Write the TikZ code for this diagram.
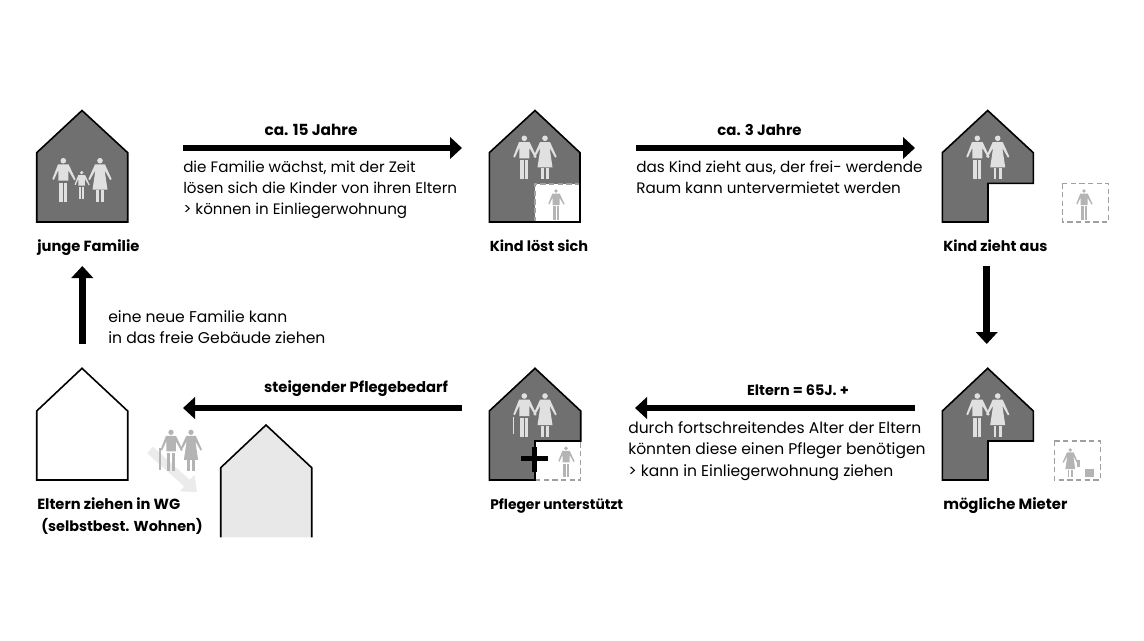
\documentclass[tikz,border=0pt]{standalone}
\usepackage{fontspec}
\setmainfont{Poppins}
\usetikzlibrary{arrows.meta}
\definecolor{housegray}{HTML}{707070}
\definecolor{figlight}{HTML}{E0E0E0}
\definecolor{figmid}{HTML}{B4B4B4}
\definecolor{dashgray}{HTML}{A0A0A0}
\newcommand{\bfs}[1]{\fontsize{#1}{14}\selectfont\bfseries}
\newcommand{\rgs}[1]{\fontsize{#1}{16}\selectfont}
\tikzset{
  house/.style={draw=black,line width=1.2pt,line join=miter},
  bigarrow/.style={line width=5pt,-{Triangle[length=9pt,width=16pt]}},
  dashbox/.style={draw=dashgray,line width=0.9pt,dash pattern=on 4pt off 2.5pt},
  lab/.style={inner sep=0pt,anchor=base west},
  toplab/.style={inner sep=0pt,anchor=base},
  body/.style={inner sep=0pt,anchor=north west,align=left}
}
\newcommand{\manfig}[4]{% x,y,scale,colour
  \begin{scope}[shift={(#1,#2)},scale=#3]
    \fill[#4] (0,0) circle (2.8);
    \fill[#4] (-5.3,3.7) -- (-11,18.3) -- (-9.4,19.2) -- (-5,9.5) -- (-5,20) -- (5,20) -- (5,9.5) -- (10.9,19.6) -- (12.3,18.6) -- (5.3,3.7) -- cycle;
    \fill[#4] (-3.9,22) rectangle (-0.7,41);
    \fill[#4] (0.7,22) rectangle (3.9,41);
  \end{scope}}
\newcommand{\womanfig}[4]{%
  \begin{scope}[shift={(#1,#2)},scale=#3]
    \fill[#4] (0,0) circle (2.8);
    \fill[#4] (-5,3.7) -- (5,3.7) -- (11.6,18.3) -- (10.2,19.4) -- (4.6,9.5) -- (7.5,29) -- (-7.5,29) -- (-4.6,9.5) -- (-10.2,19.4) -- (-11.6,18.3) -- cycle;
    \fill[#4] (-4.1,29.6) rectangle (-1.3,41);
    \fill[#4] (1.3,29.6) rectangle (4.1,41);
  \end{scope}}
\begin{document}
\begin{tikzpicture}[x=0.75pt,y=-0.75pt]
\useasboundingbox (0,0) rectangle (1144,640);
% --- house 1
\path[house,fill=housegray] (82,110.5) -- (127.7,152.7) -- (127.7,222) -- (36.7,222) -- (36.7,152.7) -- cycle;
\manfig{63.3}{160.7}{1}{figlight}
\manfig{81.7}{172.7}{0.65}{figlight}
\womanfig{100}{160.7}{1}{figlight}
% --- house 2
\fill[housegray] (535,110.5) -- (580,152.7) -- (580,222) -- (489.3,222) -- (489.3,152.7) -- cycle;
\fill[white] (535,184) rectangle (580,222);
\draw[dashbox] (535,222) -- (535,184) -- (580,184);
\draw[house] (535,110.5) -- (580,152.7) -- (580,222) -- (489.3,222) -- (489.3,152.7) -- cycle;
\manfig{524.3}{138.3}{1}{figlight}
\womanfig{545}{138.3}{1}{figlight}
\manfig{556}{191}{0.7}{figmid}
% --- house 3
\path[house,fill=housegray] (987.7,110.5) -- (1033.3,152.7) -- (1033.3,183.3) -- (988,183.3) -- (988,222) -- (942.3,222) -- (942.3,152.7) -- cycle;
\manfig{977.3}{138.3}{1}{figlight}
\womanfig{997.7}{138.3}{1}{figlight}
\draw[dashbox] (1062.7,183.3) rectangle (1108.7,222);
\manfig{1084}{191}{0.7}{figmid}
% --- house 4
\path[house,fill=housegray] (987.7,368.3) -- (1033.3,411) -- (1033.3,441) -- (988,441) -- (988,480) -- (942.3,480) -- (942.3,411) -- cycle;
\manfig{977.3}{396}{1}{figlight}
\womanfig{997.7}{396}{1}{figlight}
\draw[dashbox] (1054.3,441) rectangle (1100.3,480);
\womanfig{1070.3}{450}{0.66}{figmid}
\fill[figmid] (1076.7,460) rectangle (1080.3,467.3);
\fill[figmid] (1085.3,469) rectangle (1093.7,477);
% --- house 5
\draw[dashbox] (535,480) -- (580.7,480) -- (580.7,441);
\path[house,fill=housegray] (535,368.3) -- (580.7,411) -- (580.7,441) -- (535,441) -- (535,480) -- (489.3,480) -- (489.3,411) -- cycle;
\manfig{524.3}{396}{1}{figlight}
\draw[figlight,line width=0.8pt] (513.3,416.5) -- (513.3,434);
\womanfig{545}{396}{1}{figlight}
\manfig{566}{448.3}{0.7}{figmid}
\fill[black] (521,456.2) rectangle (547.7,461.2);
\fill[black] (531.8,446.7) rectangle (536.8,471.7);
% --- house 6 and 7
\path[house,fill=white] (82,368.3) -- (127.7,411) -- (127.7,480) -- (36.7,480) -- (36.7,411) -- cycle;
\fill[black!9] (266,425) -- (311.7,467.7) -- (311.7,537.3) -- (220.7,537.3) -- (220.7,467.7) -- cycle;
\draw[house] (220.7,537.3) -- (220.7,467.7) -- (266,425) -- (311.7,467.7) -- (311.7,537.3);
% moving arrow and couple
\coordinate (moveA) at (150,450);
\coordinate (moveB) at (197,492);
\draw[black!8,line width=6.5pt,-{Triangle[length=10pt,width=16pt]}] (moveA) -- (moveB);
\manfig{171}{432.3}{0.95}{figmid}
\draw[figmid,line width=0.8pt] (160,448) -- (160,470);
\womanfig{191}{432.3}{0.95}{figmid}
% --- arrows
\coordinate (a1s) at (183,148);  \coordinate (a1e) at (462,148);
\coordinate (a2s) at (636,148);  \coordinate (a2e) at (915,148);
\coordinate (a3s) at (986.7,266); \coordinate (a3e) at (986.7,344);
\coordinate (a4s) at (915,408);  \coordinate (a4e) at (635,408);
\coordinate (a5s) at (462,408);  \coordinate (a5e) at (183,408);
\coordinate (a6s) at (82.3,344); \coordinate (a6e) at (82.3,266);
\foreach \p/\q in {a1s/a1e,a2s/a2e,a3s/a3e,a4s/a4e,a5s/a5e,a6s/a6e}
  \draw[bigarrow] (\p) -- (\q);
% --- labels
\node[lab,font=\bfs{11.05}] (l1) at (37,251) {junge Familie};
\node[lab,font=\bfs{10.85}] (l2) at (489.5,251) {Kind löst sich};
\node[lab,font=\bfs{10.9}] (l3) at (943,251) {Kind zieht aus};
\node[lab,font=\bfs{11.15}] (l4) at (943,509) {mögliche Mieter};
\node[lab,font=\bfs{10.4}] (l5) at (490,509) {Pfleger unterstützt};
\node[lab,font=\bfs{11}] (l6) at (37,509) {Eltern ziehen in WG};
\node[lab,font=\bfs{10.8}] (l7) at (41,531) {(selbstbest. Wohnen)};
\node[toplab,font=\bfs{11.5}] (t1) at (311,135) {ca. 15 Jahre};
\node[toplab,font=\bfs{11.2}] (t2) at (759.5,135) {ca. 3 Jahre};
\node[toplab,font=\bfs{10.8}] (t3) at (798,395) {Eltern = 65J. +};
\node[toplab,font=\bfs{11.1}] (t4) at (356,392) {steigender Pflegebedarf};
% --- body text
\node[body,font=\rgs{11.35}] (b1) at (183,160.5) {die Familie wächst, mit der Zeit\\lösen sich die Kinder von ihren Eltern\\> können in Einliegerwohnung};
\node[body,font=\rgs{11.4}] (b2) at (636,160.5) {das Kind zieht aus, der frei- werdende\\Raum kann untervermietet werden};
\node[body,font=\rgs{11.65}] (b3) at (628,421.5) {durch fortschreitendes Alter der Eltern\\könnten diese einen Pfleger benötigen\\> kann in Einliegerwohnung ziehen};
\node[body,font=\rgs{11.7}] (b4) at (108,310) {eine neue Familie kann\\in das freie Gebäude ziehen};
\end{tikzpicture}
\end{document}
